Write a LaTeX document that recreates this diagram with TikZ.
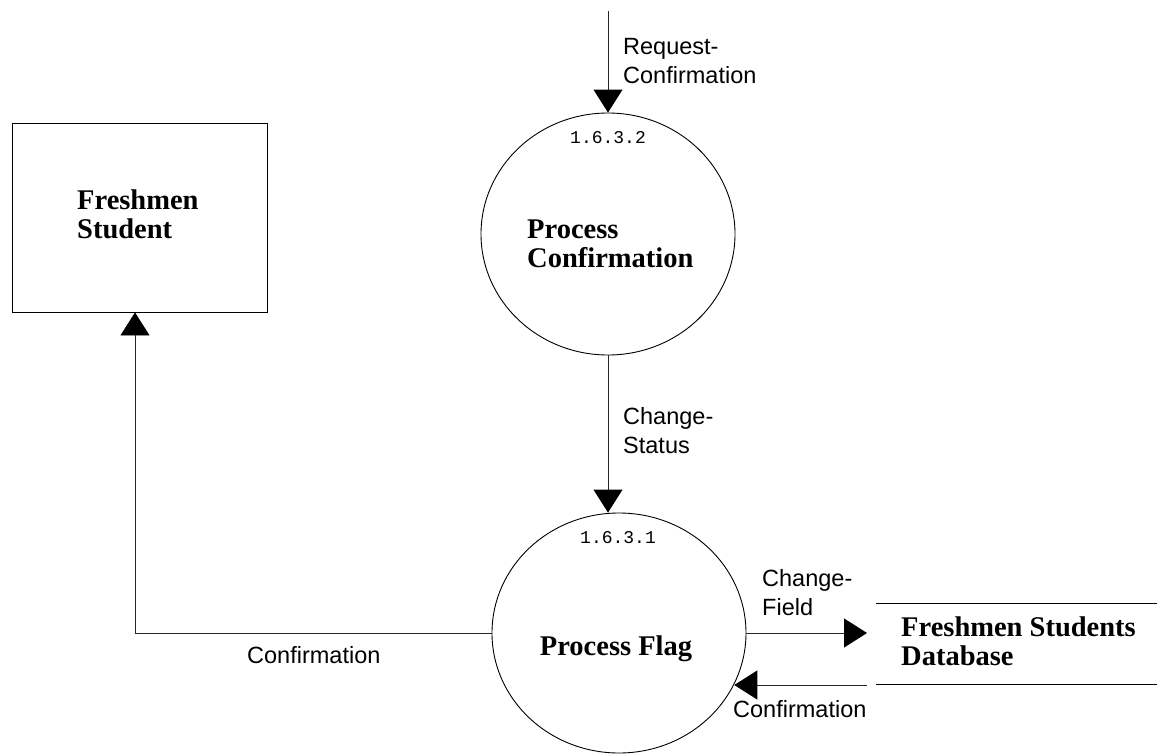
\documentclass[tikz,border=0pt]{standalone}
\usepackage{fontspec}
\setmainfont{Liberation Serif}
\setsansfont{Liberation Sans}
\setmonofont{Liberation Mono}
\usetikzlibrary{shapes.geometric,arrows.meta}
\begin{document}
\begin{tikzpicture}[x=1pt,y=-1pt,
  shapeline/.style={draw=black,line width=0.9pt},
  proc/.style={shapeline,ellipse,inner sep=0pt,minimum width=254pt,minimum height=242pt},
  entity/.style={shapeline,rectangle,inner sep=0pt,minimum width=255pt,minimum height=189pt},
  store/.style={rectangle,inner sep=0pt,minimum width=281pt,minimum height=80pt},
  flow/.style={draw=black!85,line width=0.9pt,-{Triangle[length=23pt,width=29pt,color=black,fill=black]}},
  boldlbl/.style={inner sep=0pt,align=left,font=\fontsize{28.5}{29}\selectfont\bfseries},
  flowlbl/.style={inner sep=0pt,align=left,font=\fontsize{23.5}{29}\selectfont\sffamily},
  numlbl/.style={inner sep=0pt,font=\fontsize{18}{20}\selectfont\ttfamily}]
\useasboundingbox (0,0) rectangle (1157,755);

% shapes
\node[entity] (fs) at (139.5,217.5) {};
\node[proc] (p1) at (608,234) {};
\node[proc, minimum height=240pt] (p2) at (619,633) {};
\node[store] (db) at (1016.5,644) {};
\draw[shapeline] (db.north west) -- (db.north east);
\draw[shapeline] (db.south west) -- (db.south east);

% texts
\node[boldlbl,anchor=base west] (fst) at (77,238) {Freshmen\\Student};
\node[boldlbl,anchor=base west] (p1t) at (527,267) {Process\\Confirmation};
\node[boldlbl,anchor=base] (p2t) at (616,655) {Process Flag};
\node[boldlbl,anchor=base west] (dbt) at (901,665) {Freshmen Students\\Database};
\node[numlbl,anchor=base] (p1n) at (608,143) {1.6.3.2};
\node[numlbl,anchor=base] (p2n) at (618,543) {1.6.3.1};

% connectors
\coordinate (src) at (608,11);
\draw[flow] (src) -- (p1.north);
\draw[flow] (p1.south) -- (p1.south |- p2.north);
\draw[flow] (p2.west) -| ([xshift=-4.5pt]fs.south);
\coordinate (cf) at (867,633);
\draw[flow] (p2.east) -- (cf);
\coordinate (cb) at (867,685);
\draw[flow] (cb) -- (cb -| p2.-24.4);

% flow labels
\node[flowlbl,anchor=base west] (l1) at (623,83) {Request-\\Confirmation};
\node[flowlbl,anchor=base west] (l2) at (623,453) {Change-\\Status};
\node[flowlbl,anchor=base west] (l3) at (762,615) {Change-\\Field};
\node[flowlbl,anchor=base west] (l4) at (733,717) {Confirmation};
\node[flowlbl,anchor=base west] (l5) at (247,663) {Confirmation};
\end{tikzpicture}
\end{document}
